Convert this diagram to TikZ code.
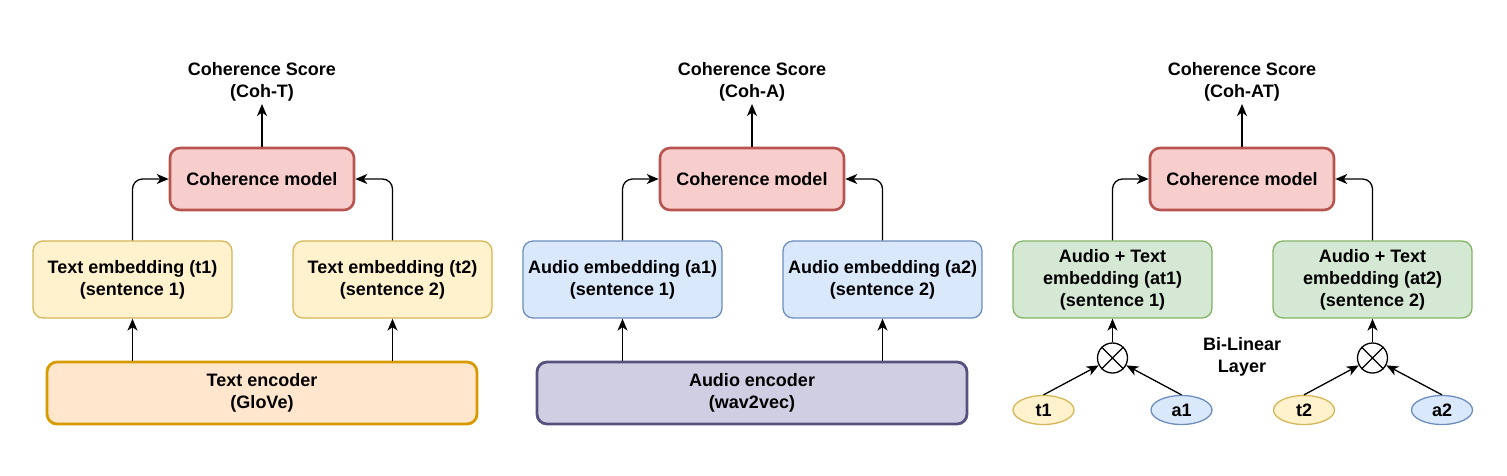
\documentclass[tikz,border=0pt]{standalone}
\usepackage{fontspec}
\setmainfont{Liberation Sans}
\usetikzlibrary{arrows.meta,shapes.geometric}
\definecolor{yfill}{HTML}{FFF2CC}\definecolor{ydraw}{HTML}{D6B656}
\definecolor{ofill}{HTML}{FFE6CC}\definecolor{odraw}{HTML}{D79B00}
\definecolor{rfill}{HTML}{F8CECC}\definecolor{rdraw}{HTML}{B85450}
\definecolor{bfill}{HTML}{DAE8FC}\definecolor{bdraw}{HTML}{6C8EBF}
\definecolor{pfill}{HTML}{D0CEE2}\definecolor{pdraw}{HTML}{56517E}
\definecolor{gfill}{HTML}{D5E8D4}\definecolor{gdraw}{HTML}{82B366}
\tikzset{
  lbl/.style={font=\fontsize{18}{22}\selectfont\bfseries, align=center, text=black},
  box/.style={lbl, rounded corners=10pt, inner sep=0pt},
  modelbox/.style={box, fill=rfill, draw=rdraw, line width=2.6pt, minimum width=184pt, minimum height=62pt},
  embbox/.style={box, line width=1.3pt, minimum width=199pt, minimum height=77pt},
  encbox/.style={box, line width=2.8pt, minimum width=430pt, minimum height=62pt},
  ell/.style={lbl, ellipse, line width=1.3pt, minimum width=61pt, minimum height=29pt, inner sep=0pt},
  mult/.style={circle, draw, line width=1.3pt, minimum size=30pt, inner sep=0pt},
  arr/.style={-{Stealth[length=12pt,width=10pt,inset=3.5pt]}, line width=1.3pt},
  elbow/.style={arr, rounded corners=10pt},
}
\begin{document}
\begin{tikzpicture}[x=1pt,y=-1pt]
\useasboundingbox (0,0) rectangle (1507,475);
% ---------- panel 1 ----------
\node[lbl] (sT) at (262,82) {Coherence Score\\(Coh-T)};
\coordinate (sTa) at (262,104);
\node[modelbox] (mT) at (262,179) {Coherence model};
\node[embbox, fill=yfill, draw=ydraw] (t1e) at (132.5,279.5) {Text embedding (t1)\\(sentence 1)};
\node[embbox, fill=yfill, draw=ydraw] (t2e) at (392.5,279.5) {Text embedding (t2)\\(sentence 2)};
\node[encbox, fill=ofill, draw=odraw] (encT) at (262,393) {Text encoder\\(GloVe)};
\draw[arr] (mT.north) -- (sTa);
\draw[elbow] (t1e.north) |- (mT.west);
\draw[elbow] (t2e.north) |- (mT.east);
\draw[arr] (t1e.south |- encT.north) -- (t1e.south);
\draw[arr] (t2e.south |- encT.north) -- (t2e.south);
% ---------- panel 2 ----------
\node[lbl] (sA) at (752,82) {Coherence Score\\(Coh-A)};
\coordinate (sAa) at (752,104);
\node[modelbox] (mA) at (752,179) {Coherence model};
\node[embbox, fill=bfill, draw=bdraw] (a1e) at (622.5,279.5) {Audio embedding (a1)\\(sentence 1)};
\node[embbox, fill=bfill, draw=bdraw] (a2e) at (882.5,279.5) {Audio embedding (a2)\\(sentence 2)};
\node[encbox, fill=pfill, draw=pdraw] (encA) at (752,393) {Audio encoder\\(wav2vec)};
\draw[arr] (mA.north) -- (sAa);
\draw[elbow] (a1e.north) |- (mA.west);
\draw[elbow] (a2e.north) |- (mA.east);
\draw[arr] (a1e.south |- encA.north) -- (a1e.south);
\draw[arr] (a2e.south |- encA.north) -- (a2e.south);
% ---------- panel 3 ----------
\node[lbl] (sAT) at (1242,82) {Coherence Score\\(Coh-AT)};
\coordinate (sATa) at (1242,104);
\node[modelbox] (mAT) at (1242,179) {Coherence model};
\node[embbox, fill=gfill, draw=gdraw] (at1e) at (1112.5,279.5) {Audio + Text\\embedding (at1)\\(sentence 1)};
\node[embbox, fill=gfill, draw=gdraw] (at2e) at (1372.5,279.5) {Audio + Text\\embedding (at2)\\(sentence 2)};
\draw[arr] (mAT.north) -- (sATa);
\draw[elbow] (at1e.north) |- (mAT.west);
\draw[elbow] (at2e.north) |- (mAT.east);
\node[mult] (x1) at (1112.5,358) {};
\node[mult] (x2) at (1372.5,358) {};
\draw[line width=1.3pt] (x1.north west) -- (x1.south east) (x1.north east) -- (x1.south west);
\draw[line width=1.3pt] (x2.north west) -- (x2.south east) (x2.north east) -- (x2.south west);
\node[ell, fill=yfill, draw=ydraw] (t1) at (1043.5,410) {t1};
\node[ell, fill=bfill, draw=bdraw] (a1) at (1181.5,410) {a1};
\node[ell, fill=yfill, draw=ydraw] (t2) at (1304,410) {t2};
\node[ell, fill=bfill, draw=bdraw] (a2) at (1442,410) {a2};
\node[lbl] (bl) at (1242,357) {Bi-Linear\\Layer};
\draw[arr] (x1.north) -- (at1e.south);
\draw[arr] (x2.north) -- (at2e.south);
\draw[arr] (t1.north) -- (x1);
\draw[arr] (a1.north) -- (x1);
\draw[arr] (t2.north) -- (x2);
\draw[arr] (a2.north) -- (x2);
\end{tikzpicture}
\end{document}
